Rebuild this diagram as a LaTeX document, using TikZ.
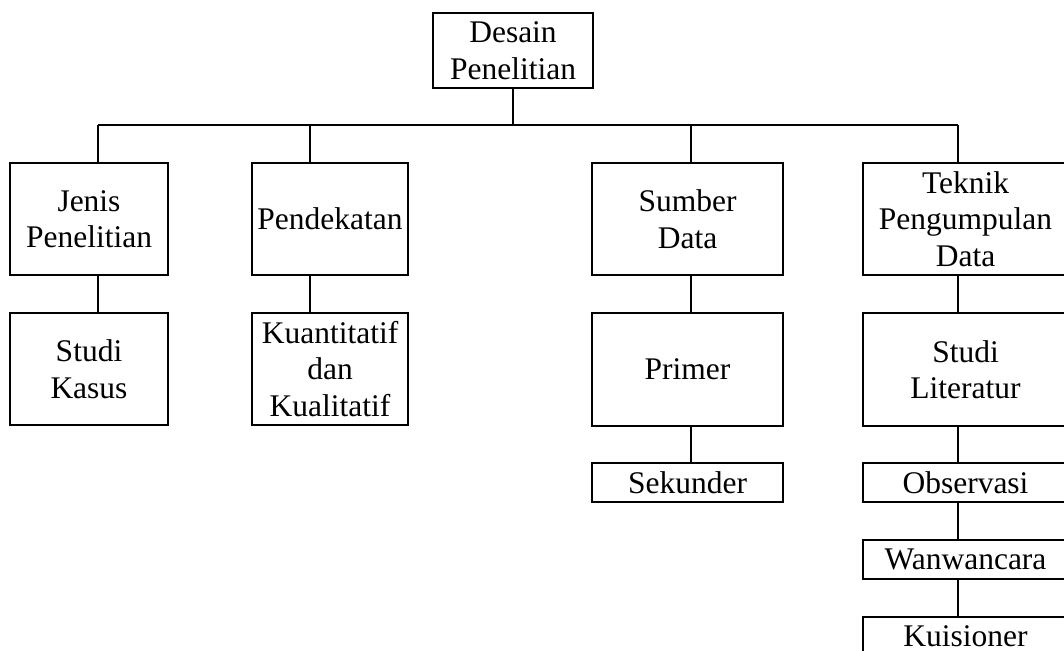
\documentclass[tikz,border=0pt]{standalone}
\usepackage{fontspec}
\setmainfont{Liberation Serif}
\begin{document}
\begin{tikzpicture}[x=1pt,y=-1pt,
  box/.style={draw, line width=1.4pt, inner sep=0pt, align=center,
    font=\fontsize{31.5}{36.5}\selectfont},
  link/.style={line width=1.4pt}]
\clip (0,0) rectangle (1064,650);
% boxes
\node[box, minimum width=160pt, minimum height=75pt] (top) at (513,50.5) {Desain\\Penelitian};
\node[box, minimum width=158pt, minimum height=112pt] (jenis) at (89,219) {Jenis\\Penelitian};
\node[box, minimum width=156pt, minimum height=112pt] (pend) at (330,219) {Pendekatan};
\node[box, minimum width=191pt, minimum height=112pt] (sumber) at (687.5,219) {Sumber\\Data};
\node[box, minimum width=205pt, minimum height=112pt] (teknik) at (965.5,219) {Teknik\\Pengumpulan\\Data};
\node[box, minimum width=158pt, minimum height=112pt] (studi) at (89,369) {Studi\\Kasus};
\node[box, minimum width=156pt, minimum height=112pt] (kuan) at (330,369) {Kuantitatif\\dan\\Kualitatif};
\node[box, minimum width=191pt, minimum height=113pt] (primer) at (687.5,369.5) {Primer};
\node[box, minimum width=205pt, minimum height=113pt] (lit) at (965.5,369.5) {Studi\\Literatur};
\node[box, minimum width=191pt, minimum height=39pt] (sek) at (687.5,482.5) {Sekunder};
\node[box, minimum width=205pt, minimum height=39pt] (obs) at (965.5,482.5) {Observasi};
\node[box, minimum width=205pt, minimum height=39pt] (wan) at (965.5,559.5) {Wanwancara};
\node[box, minimum width=205pt, minimum height=39pt] (kui) at (965.5,636.5) {Kuisioner};
% bus coordinates
\coordinate (b1) at (98,125);
\coordinate (b2) at (310,125);
\coordinate (b3) at (691,125);
\coordinate (b4) at (958,125);
\draw[link] (b1) -- (b4);
\draw[link] (top.south) -- (top.south |- b1);
\draw[link] (b1) -- (b1 |- jenis.north);
\draw[link] (b2) -- (b2 |- pend.north);
\draw[link] (b3) -- (b3 |- sumber.north);
\draw[link] (b4) -- (b4 |- teknik.north);
% children
\draw[link] (jenis.south -| b1) -- (studi.north -| b1);
\draw[link] (pend.south -| b2) -- (kuan.north -| b2);
\draw[link] (sumber.south -| b3) -- (primer.north -| b3);
\draw[link] (primer.south -| b3) -- (sek.north -| b3);
\draw[link] (teknik.south -| b4) -- (lit.north -| b4);
\draw[link] (lit.south -| b4) -- (obs.north -| b4);
\draw[link] (obs.south -| b4) -- (wan.north -| b4);
\draw[link] (wan.south -| b4) -- (kui.north -| b4);
\end{tikzpicture}
\end{document}
